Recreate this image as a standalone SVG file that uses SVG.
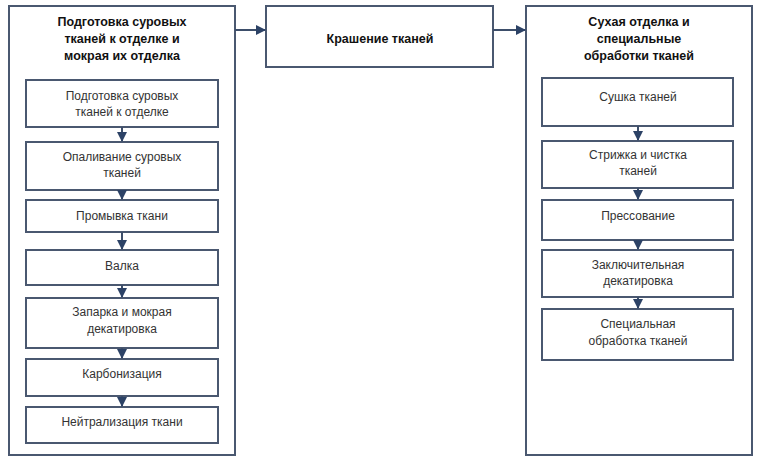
<svg xmlns="http://www.w3.org/2000/svg" width="761" height="464" viewBox="0 0 761 464">
<style>
rect{fill:#fff;stroke:#4a5870;stroke-width:2}
text{font-family:"Liberation Sans",Arial,sans-serif;font-size:12px;fill:#333;text-anchor:middle}
.b{font-weight:bold;fill:#111;font-size:12.5px}
.c line{stroke:#3d4e6a;stroke-width:2}
</style>
<defs><marker id="a" viewBox="0 0 10 10" refX="9" refY="5" markerWidth="5" markerHeight="5" orient="auto"><path d="M0,0L10,5L0,10z" fill="#2c4266"/></marker></defs>
<rect x="0" y="0" width="761" height="464" style="stroke:none"/>
<g id="left"><rect x="9" y="6" width="226" height="449"/>
<text class="b" x="122" y="26">Подготовка суровых</text><text class="b" x="122" y="43">тканей к отделке и</text><text class="b" x="122" y="60">мокрая их отделка</text></g>
<g id="l1"><rect x="26" y="80" width="192" height="47"/><text x="122" y="100">Подготовка суровых</text><text x="122" y="116">тканей к отделке</text></g>
<g id="l2"><rect x="26" y="142" width="192" height="48"/><text x="122" y="161">Опаливание суровых</text><text x="122" y="177">тканей</text></g>
<g id="l3"><rect x="26" y="200" width="192" height="32"/><text x="122" y="220">Промывка ткани</text></g>
<g id="l4"><rect x="26" y="250" width="192" height="35"/><text x="122" y="270">Валка</text></g>
<g id="l5"><rect x="26" y="298" width="192" height="50"/><text x="122" y="316">Запарка и мокрая</text><text x="122" y="333">декатировка</text></g>
<g id="l6"><rect x="26" y="359" width="192" height="37"/><text x="122" y="378">Карбонизация</text></g>
<g id="l7"><rect x="26" y="407" width="192" height="36"/><text x="122" y="426">Нейтрализация ткани</text></g>
<g id="mid"><rect x="266" y="6" width="227" height="61"/><text class="b" x="380" y="43">Крашение тканей</text></g>
<g id="right"><rect x="526" y="6" width="226" height="449"/>
<text class="b" x="639" y="26">Сухая отделка и</text><text class="b" x="639" y="43">специальные</text><text class="b" x="639" y="60">обработки тканей</text></g>
<g id="r1"><rect x="542" y="78" width="191" height="48"/><text x="638" y="101">Сушка тканей</text></g>
<g id="r2"><rect x="542" y="141" width="191" height="47"/><text x="638" y="159">Стрижка и чистка</text><text x="638" y="175">тканей</text></g>
<g id="r3"><rect x="542" y="200" width="191" height="40"/><text x="638" y="220">Прессование</text></g>
<g id="r4"><rect x="542" y="250" width="191" height="47"/><text x="638" y="269">Заключительная</text><text x="638" y="285">декатировка</text></g>
<g id="r5"><rect x="542" y="309" width="191" height="51"/><text x="638" y="328">Специальная</text><text x="638" y="345">обработка тканей</text></g>
<g class="c">
<line x1="235" y1="30" x2="265" y2="30" marker-end="url(#a)"/>
<line x1="493" y1="30" x2="525" y2="30" marker-end="url(#a)"/>
<line x1="122" y1="127" x2="122" y2="141" marker-end="url(#a)"/>
<line x1="122" y1="190" x2="122" y2="199" marker-end="url(#a)"/>
<line x1="122" y1="232" x2="122" y2="249" marker-end="url(#a)"/>
<line x1="122" y1="285" x2="122" y2="297" marker-end="url(#a)"/>
<line x1="122" y1="348" x2="122" y2="358" marker-end="url(#a)"/>
<line x1="122" y1="396" x2="122" y2="406" marker-end="url(#a)"/>
<line x1="638" y1="126" x2="638" y2="140" marker-end="url(#a)"/>
<line x1="638" y1="188" x2="638" y2="199" marker-end="url(#a)"/>
<line x1="638" y1="240" x2="638" y2="249" marker-end="url(#a)"/>
<line x1="638" y1="297" x2="638" y2="308" marker-end="url(#a)"/>
</g>
</svg>
